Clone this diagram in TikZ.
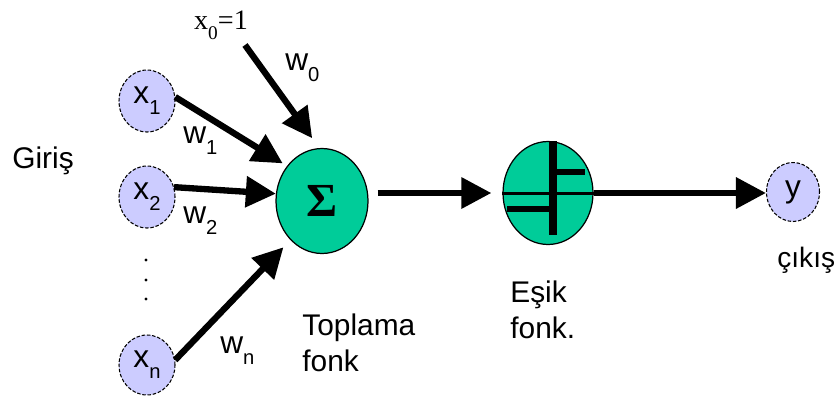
\documentclass[tikz,border=0pt]{standalone}
\usepackage{fontspec}
\setmainfont{Liberation Sans}
\newfontfamily\timesfont{Liberation Serif}
\usepackage{tikz}
\usetikzlibrary{arrows.meta,shapes.geometric,calc}
\definecolor{inlav}{HTML}{CCCCFF}
\definecolor{sumgreen}{HTML}{00CC99}
\newcommand{\lowsub}[1]{\raisebox{-0.35em}{\fontsize{11.5}{12}\selectfont #1}}

\begin{document}
\begin{tikzpicture}[x=0.02cm, y=-0.02cm,
  every node/.style={font=\fontsize{17}{21}\selectfont, inner sep=0pt},
  inp/.style={ellipse, draw, dash pattern=on 2pt off 1pt, line width=0.6pt, fill=inlav, minimum width=1.12cm, minimum height=1.24cm, font=\fontsize{18}{18}\selectfont},
  neuron/.style={ellipse, draw, line width=0.7pt, fill=sumgreen, minimum width=1.84cm, minimum height=2.1cm},
  wlbl/.style={anchor=base west, font=\fontsize{18}{18}\selectfont},
  arr/.style={-{Triangle[length=0.6cm,width=0.6cm]}, line width=3.6pt},
  stepbar/.style={line width=3.4pt}]
\useasboundingbox (0,0) rectangle (838,400);
\node[anchor=base west] (giris) at (12,168) {Giriş};
\node[inp] (x1) at (147,101) {x\lowsub{1}};
\node[inp] (x2) at (147,197) {x\lowsub{2}};
\node[inp, minimum height=1.2cm] (xn) at (147,365) {x\lowsub{n}};
\foreach \yy in {260,280,299} \fill (146,\yy) circle (0.9pt);
\node[font={\timesfont\fontsize{16}{16}\selectfont}] (x0) at (221,25) {x\raisebox{-0.35em}{\fontsize{11}{11}\selectfont 0}=1};
\coordinate (x0tail) at (245,45);
\node[neuron, font={\timesfont\bfseries\fontsize{27}{27}\selectfont}] (sum) at (322,201) {Σ};
\node[neuron, minimum width=1.8cm, minimum height=2.06cm] (thr) at (548,193) {};
\node[inp, minimum width=1.06cm, minimum height=1.18cm] (out) at (793,192) {y};
% weights
\node[wlbl] (w0) at (285,70) {w\lowsub{0}};
\node[wlbl] (w1) at (183,143) {w\lowsub{1}};
\node[wlbl] (w2) at (183,223) {w\lowsub{2}};
\node[wlbl] (wn) at (220,353) {w\lowsub{n}};
% captions
\node[anchor=north west, align=left] (toplama) at (302,313) {Toplama\\fonk};
\node[anchor=north west, align=left] (esik) at (510,280) {Eşik\\fonk.};
\node[anchor=base west, font=\fontsize{16}{16}\selectfont] (cikis) at (777,267) {çıkış};
% threshold symbol
\draw[line width=1.7pt] (thr.west) -- (thr.east);
\draw[line width=4pt] ($(thr.center)+(5,-52)$) -- ($(thr.center)+(5,42)$);
\draw[stepbar] ($(thr.center)+(5,-21)$) -- ($(thr.center)+(37,-21)$);
\draw[stepbar] ($(thr.center)+(-41,16)$) -- ($(thr.center)+(5,16)$);
% connections
\draw[arr, shorten >=0.24cm] (x0tail) -- (sum.93);
\draw[arr, shorten >=0.1cm] (x1.8) -- (sum.135);
\draw[arr] (x2.20) -- (sum.171);
\draw[arr, shorten >=0.2cm] (xn.10) -- (sum.231);
\draw[arr] ($(sum.east)+(9,-8)$) -- ($(thr.west)+(-11,0)$);
\draw[arr] (thr.east) -- (thr.east -| out.west);
\end{tikzpicture}
\end{document}
